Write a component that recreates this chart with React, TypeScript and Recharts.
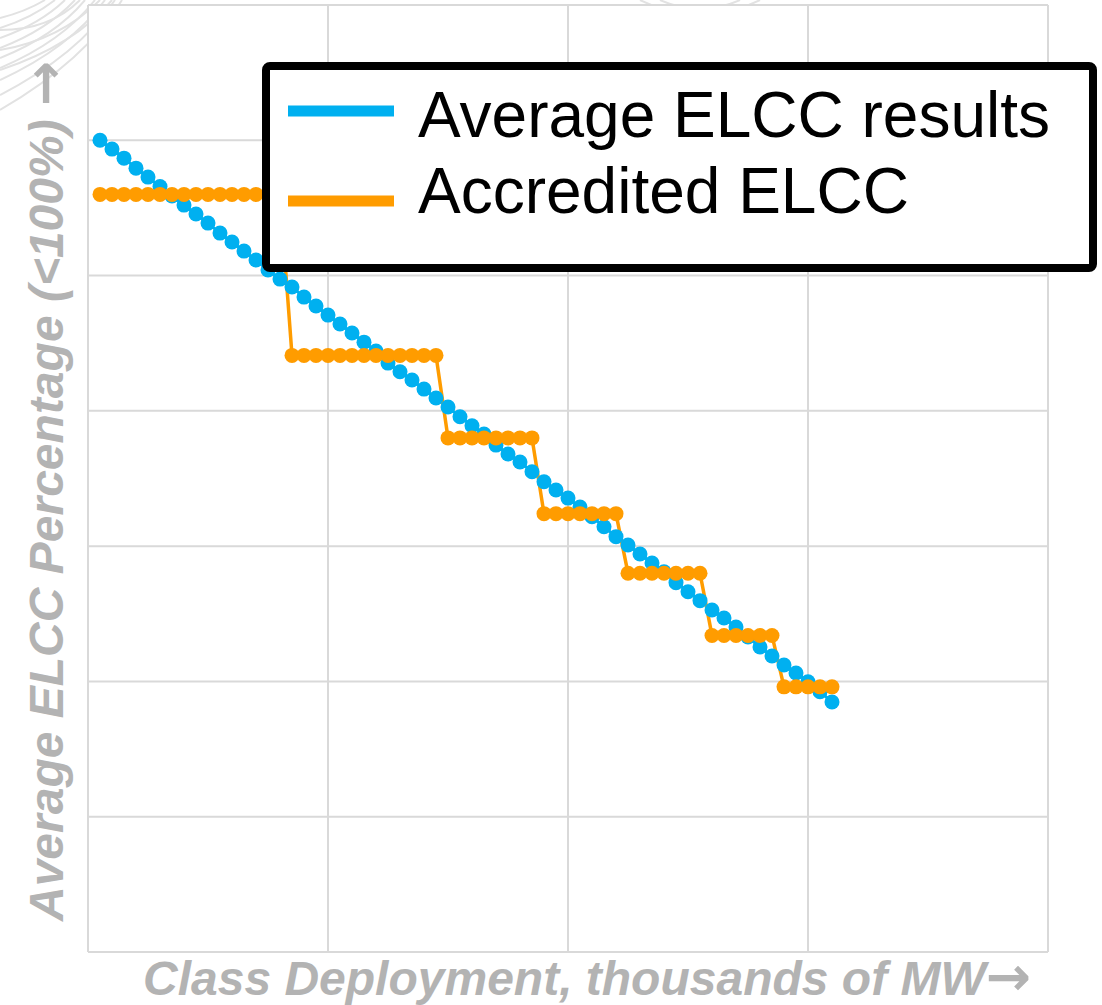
import React from 'react';
import { LineChart, Line, XAxis, YAxis, CartesianGrid, Legend, Customized } from 'recharts';

// Class deployment (thousands of MW)
const deployment = [
  0.05, 0.1, 0.15, 0.2, 0.25, 0.3, 0.35, 0.4, 0.45, 0.5,
  0.55, 0.6, 0.65, 0.7, 0.75, 0.8, 0.85, 0.9, 0.95, 1.0,
  1.05, 1.1, 1.15, 1.2, 1.25, 1.3, 1.35, 1.4, 1.45, 1.5,
  1.55, 1.6, 1.65, 1.7, 1.75, 1.8, 1.85, 1.9, 1.95, 2.0,
  2.05, 2.1, 2.15, 2.2, 2.25, 2.3, 2.35, 2.4, 2.45, 2.5,
  2.55, 2.6, 2.65, 2.7, 2.75, 2.8, 2.85, 2.9, 2.95, 3.0,
  3.05, 3.1,
];

// Average ELCC results (%)
const averageElcc = [
  60.0, 59.35, 58.68, 57.94, 57.28, 56.58, 55.88, 55.21, 54.55, 53.88,
  53.14, 52.48, 51.81, 51.15, 50.41, 49.74, 49.15, 48.41, 47.75, 47.08,
  46.42, 45.75, 45.08, 44.42, 43.53, 42.89, 42.28, 41.61, 40.95, 40.28,
  39.56, 38.9, 38.29, 37.47, 36.81, 36.22, 35.5, 34.76, 34.15, 33.55,
  32.89, 32.17, 31.43, 30.7, 30.08, 29.42, 28.75, 28.11, 27.3, 26.63,
  25.97, 25.28, 24.69, 24.02, 23.28, 22.54, 21.88, 21.21, 20.62, 19.98,
  19.24, 18.48,
];

// Accredited ELCC (%)
const accreditedElcc = [
  56.0, 56.0, 56.0, 56.0, 56.0, 56.0, 56.0, 56.0, 56.0, 56.0,
  56.0, 56.0, 56.0, 56.0, 56.0, 56.0,
  44.1, 44.1, 44.1, 44.1, 44.1, 44.1, 44.1, 44.1, 44.1, 44.1,
  44.1, 44.1, 44.1,
  38.0, 38.0, 38.0, 38.0, 38.0, 38.0, 38.0, 38.0,
  32.4, 32.4, 32.4, 32.4, 32.4, 32.4, 32.4,
  28.0, 28.0, 28.0, 28.0, 28.0, 28.0, 28.0,
  23.4, 23.4, 23.4, 23.4, 23.4, 23.4,
  19.6, 19.6, 19.6, 19.6, 19.6,
];

const xTicks = [0, 1, 2, 3, 4];
const yTicks = [0, 10, 20, 30, 40, 50, 60, 70];
const xDomain = [0, 4];
const yDomain = [0, 70];
const seriesNames = ['Average ELCC results', 'Accredited ELCC'];
const seriesColors = ['#00B0F0', '#FF9C00'];
const xTitleText = 'Class Deployment, thousands of MW';
const yTitleText = 'Average ELCC Percentage (<100%) ';
const arrow = '\u2192';

const data = deployment.map((x, i) => ({
  x,
  avg: averageElcc[i],
  acc: accreditedElcc[i],
}));

const FONT = '"Liberation Sans", Arial, Helvetica, sans-serif';

const LegendBox = (props: any) => {
  const payload = [...(props.payload || [])].sort(
    (a: any, b: any) => seriesNames.indexOf(a.value) - seriesNames.indexOf(b.value)
  );
  return (
    <svg width={835} height={210} style={{ display: 'block' }}>
      <rect x={4} y={4} width={827} height={202} rx={4} fill="#fff" stroke="#000" strokeWidth={8} />
      {payload.map((p: any, i: number) => (
        <g key={i}>
          <line x1={26} x2={132} y1={49 + i * 90} y2={49 + i * 90} stroke={p.color} strokeWidth={11} />
          <text x={156} y={75 + i * 76} fontFamily={FONT} fontSize={64} fill="#000">
            {p.value}
          </text>
        </g>
      ))}
    </svg>
  );
};

const ArrowSpan = () => (
  <tspan fontFamily='"DejaVu Sans", sans-serif' fontSize={54} fontWeight="bold">
    {arrow}
  </tspan>
);

const Titles = () => (
  <g fontFamily={FONT} fontWeight="bold" fontStyle="italic" fontSize={48} fill="#b3b3b3">
    <text x={143} y={995} textAnchor="start">
      {xTitleText}
      <ArrowSpan />
    </text>
    <text transform="translate(63,921) rotate(-90)" textAnchor="start">
      {yTitleText}
      <ArrowSpan />
    </text>
  </g>
);

const Watermark = () => (
  <svg width={1102} height={1005} style={{ position: 'absolute', left: 0, top: 0 }}>
    <g fill="none" stroke="#e2e2e2" strokeWidth={2}>
      <path d="M0 18 Q 25 12 45 0" />
      <path d="M0 28 Q 32 18 55 0" />
      <path d="M0 38 Q 40 24 65 0" />
      <path d="M0 48 Q 47 30 75 0" />
      <path d="M0 58 Q 55 36 85 0" />
      <path d="M0 68 Q 62 42 95 0" />
      <path d="M0 80 Q 70 48 105 0" />
      <path d="M0 95 Q 78 55 115 0" />
      <path d="M0 110 Q 86 60 122 0" />
      <path d="M0 30 Q 50 30 80 0" />
      <path d="M0 50 Q 60 40 100 0" />
      <path d="M0 70 Q 75 45 112 0" />
      <path d="M640 0 Q 700 30 760 0" />
      <path d="M660 0 Q 700 18 740 0" />
    </g>
  </svg>
);

const scaleOf = (axis: any, v: number, fallback: number) => {
  const s = axis && axis.scale;
  if (typeof s === 'function') return s(v);
  if (s && typeof s.map === 'function') return s.map(v);
  return fallback;
};

const hGen = (props: any) => {
  const { yAxis, offset } = props;
  return yTicks.map((t) =>
    scaleOf(yAxis, t, offset.top + offset.height * (1 - (t - yDomain[0]) / (yDomain[1] - yDomain[0])))
  );
};

const vGen = (props: any) => {
  const { xAxis, offset } = props;
  return xTicks.map((t) =>
    scaleOf(xAxis, t, offset.left + offset.width * ((t - xDomain[0]) / (xDomain[1] - xDomain[0])))
  );
};

export default function App() {
  return (
    <div style={{ position: 'absolute', left: 0, top: 0, width: 1102, height: 1005, background: '#fff' }}>
      <Watermark />
      <div style={{ position: 'absolute', left: 0, top: 0 }}>
        <LineChart
          width={1102}
          height={1005}
          data={data}
          margin={{ top: 5, right: 54, bottom: 53, left: 88 }}
          style={{ fontFamily: FONT }}
        >
          <CartesianGrid
            stroke="#d9d9d9"
            strokeWidth={2}
            fill="#fff"
            horizontalCoordinatesGenerator={hGen}
            verticalCoordinatesGenerator={vGen}
          />
          <XAxis
            dataKey="x"
            type="number"
            domain={xDomain}
            ticks={xTicks}
            tick={false}
            tickLine={false}
            height={0}
            axisLine={{ stroke: '#bfbfbf', strokeWidth: 2 }}
          />
          <YAxis
            type="number"
            domain={yDomain}
            ticks={yTicks}
            tick={false}
            tickLine={false}
            width={0}
            axisLine={{ stroke: '#c8c8c8', strokeWidth: 2 }}
          />
          <Legend
            layout="horizontal"
            verticalAlign="middle"
            align="center"
            wrapperStyle={{ left: 262, top: 62, width: 835, height: 210 }}
            content={<LegendBox />}
          />
          <Line
            type="linear"
            dataKey="avg"
            name={seriesNames[0]}
            stroke={seriesColors[0]}
            strokeWidth={3}
            dot={{ r: 7.5, fill: seriesColors[0], stroke: seriesColors[0], strokeWidth: 0 }}
            activeDot={false}
            legendType="line"
            isAnimationActive={false}
          />
          <Line
            type="linear"
            dataKey="acc"
            name={seriesNames[1]}
            stroke={seriesColors[1]}
            strokeWidth={3.5}
            dot={{ r: 7.5, fill: seriesColors[1], stroke: seriesColors[1], strokeWidth: 0 }}
            activeDot={false}
            legendType="line"
            isAnimationActive={false}
          />
          <Customized component={Titles} />
        </LineChart>
      </div>
    </div>
  );
}
